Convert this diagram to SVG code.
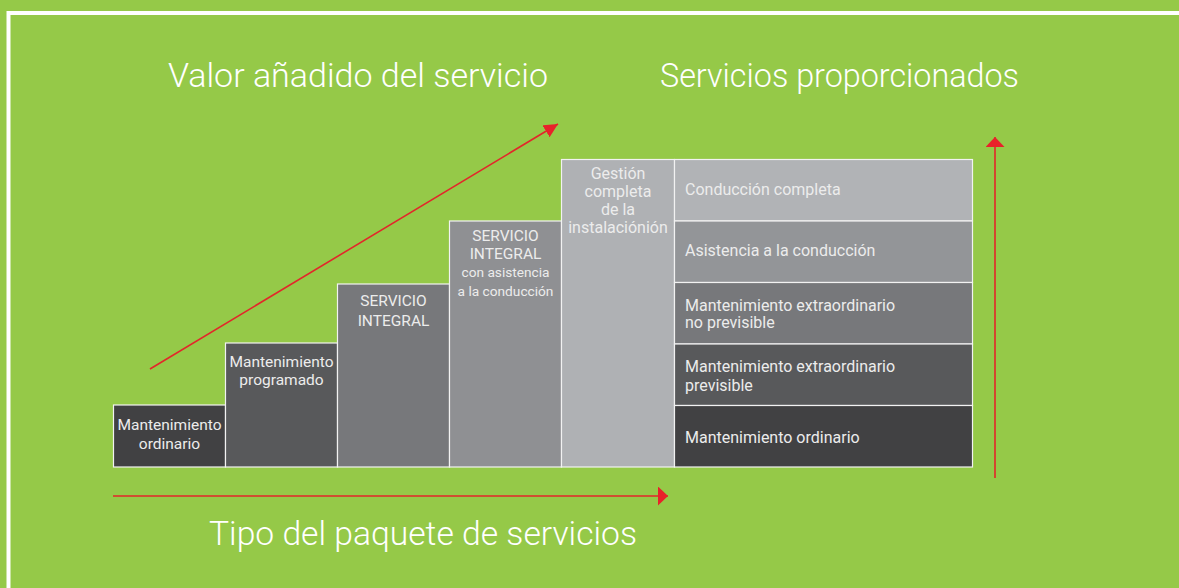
<svg xmlns="http://www.w3.org/2000/svg" width="1179" height="588" viewBox="0 0 1179 588">
  <defs>
    <style>
      .box { stroke: #f2f2f2; stroke-width: 1.2; }
      .bt { font-family: Roboto, "Liberation Sans", sans-serif; fill: #ececec; font-size: 15.5px; }
      .rt { font-size: 16px; }
      .c { text-anchor: middle; }
      .title { font-family: Roboto, "Liberation Sans", sans-serif; font-weight: 300; fill: #ffffff; font-size: 33px; }
      .arrow { stroke: #e3262a; stroke-width: 1.6; fill: none; }
    </style>
    <marker id="ah" markerUnits="userSpaceOnUse" markerWidth="12" markerHeight="20" refX="10" refY="9.5" orient="auto">
      <path d="M0,0 L10,9.5 L0,19 Z" fill="#e8222a"/>
    </marker>
    <marker id="ahs" markerUnits="userSpaceOnUse" markerWidth="16" markerHeight="16" refX="14" refY="7" orient="auto">
      <path d="M0,0 L14,7 L0,14 Z" fill="#e8222a"/>
    </marker>
  </defs>
  <rect x="0" y="0" width="1179" height="588" fill="#95c948"/>
  <path d="M8.5,600 L8.5,13 L1190,13" fill="none" stroke="#ffffff" stroke-width="4"/>

  <g id="title-valor"><text class="title" x="168" y="87" textLength="380" lengthAdjust="spacingAndGlyphs">Valor añadido del servicio</text></g>
  <g id="title-servicios"><text class="title" x="660" y="87" textLength="359" lengthAdjust="spacingAndGlyphs">Servicios proporcionados</text></g>
  <g id="title-tipo"><text class="title" x="209" y="545" textLength="428" lengthAdjust="spacingAndGlyphs">Tipo del paquete de servicios</text></g>

  <g id="pkg-1">
    <rect class="box" x="113.5" y="405" width="112" height="62" fill="#414143"/>
    <text class="bt c" x="169.5" y="430">Mantenimiento</text>
    <text class="bt c" x="169.5" y="449">ordinario</text>
  </g>
  <g id="pkg-2">
    <rect class="box" x="225.5" y="343" width="112" height="124" fill="#58595b"/>
    <text class="bt c" x="281.5" y="367">Mantenimiento</text>
    <text class="bt c" x="281.5" y="385">programado</text>
  </g>
  <g id="pkg-3">
    <rect class="box" x="337.5" y="284" width="112" height="183" fill="#77787b"/>
    <text class="bt c" x="393.5" y="306">SERVICIO</text>
    <text class="bt c" x="393.5" y="326">INTEGRAL</text>
  </g>
  <g id="pkg-4">
    <rect class="box" x="449.5" y="221" width="112" height="246" fill="#8f9093"/>
    <text class="bt c" x="505.5" y="241">SERVICIO</text>
    <text class="bt c" x="505.5" y="259">INTEGRAL</text>
    <text class="bt c" x="505.5" y="277" style="font-size:13.7px">con asistencia</text>
    <text class="bt c" x="505.5" y="296" style="font-size:13.7px">a la conducción</text>
  </g>
  <g id="pkg-5">
    <rect class="box" x="561.5" y="159.5" width="113" height="307.5" fill="#afb1b4"/>
    <text class="bt rt c" x="618" y="179">Gestión</text>
    <text class="bt rt c" x="618" y="197">completa</text>
    <text class="bt rt c" x="618" y="215">de la</text>
    <text class="bt rt c" x="618" y="233">instalaciónión</text>
  </g>

  <g id="svc-1">
    <rect class="box" x="674.5" y="159.5" width="298" height="61.5" fill="#b1b3b6"/>
    <text class="bt rt" x="685" y="195">Conducción completa</text>
  </g>
  <g id="svc-2">
    <rect class="box" x="674.5" y="221" width="298" height="61.5" fill="#939598"/>
    <text class="bt rt" x="685" y="256">Asistencia a la conducción</text>
  </g>
  <g id="svc-3">
    <rect class="box" x="674.5" y="282.5" width="298" height="61.5" fill="#77787b"/>
    <text class="bt rt" x="685" y="310.5">Mantenimiento extraordinario</text>
    <text class="bt rt" x="685" y="328">no previsible</text>
  </g>
  <g id="svc-4">
    <rect class="box" x="674.5" y="344" width="298" height="61.5" fill="#58595b"/>
    <text class="bt rt" x="685" y="372">Mantenimiento extraordinario</text>
    <text class="bt rt" x="685" y="391">previsible</text>
  </g>
  <g id="svc-5">
    <rect class="box" x="674.5" y="405.5" width="298" height="61.5" fill="#414143"/>
    <text class="bt rt" x="685" y="443">Mantenimiento ordinario</text>
  </g>

  <g id="connectors">
    <line class="arrow" x1="150" y1="369" x2="558" y2="124" marker-end="url(#ahs)"/>
    <line class="arrow" x1="113" y1="496" x2="668" y2="496" marker-end="url(#ah)"/>
    <line class="arrow" x1="995" y1="478" x2="995" y2="137" marker-end="url(#ah)"/>
  </g>
</svg>
